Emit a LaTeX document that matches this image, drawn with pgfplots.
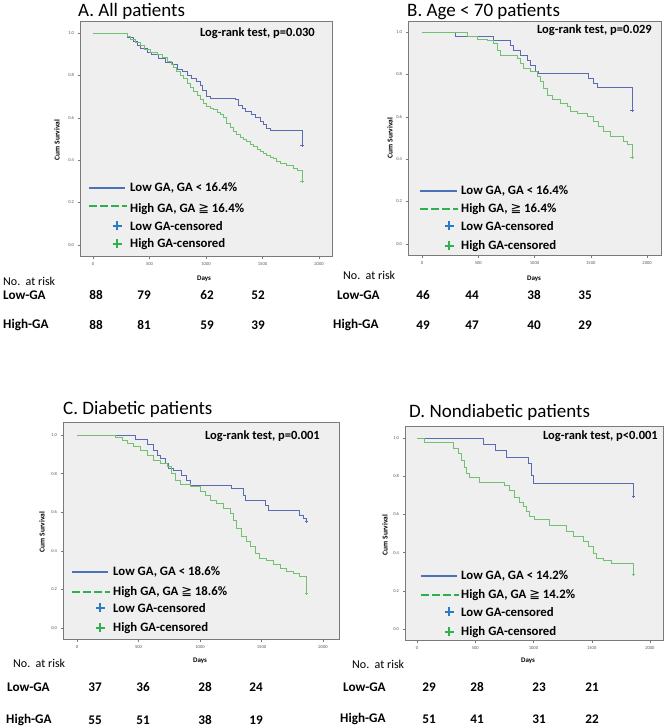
\documentclass[border=0pt]{standalone}
\usepackage{pgfplots}
\pgfplotsset{compat=1.18}
\usepackage{fontspec}
\setmainfont{Carlito}
\newfontfamily\djv{DejaVu Sans}
\definecolor{bgc}{HTML}{EFEFEF}
\definecolor{framec}{HTML}{7A7A7A}
\definecolor{tickc}{HTML}{555555}
\definecolor{bcurve}{HTML}{5B6BB2}
\definecolor{gcurve}{HTML}{72C072}
\definecolor{blegend}{HTML}{4A72B8}
\definecolor{glegend}{HTML}{2FB04E}
\definecolor{bplus}{HTML}{2A7AC8}
\definecolor{gplus}{HTML}{30B050}
\pgfplotsset{km/.style={
  scale only axis, anchor=south west,
  axis background/.style={fill=bgc},
  axis line style={draw=framec, line width=1pt},
  tick align=outside, major tick length=2.5pt,
  tick style={draw=framec, line width=0.4pt},
  xtick={0,500,1000,1500,2000}, ytick={0,0.2,0.4,0.6,0.8,1.0},
  xtick pos=bottom, ytick pos=left,
  ticklabel style={font=\fontsize{4.5}{5}\selectfont, text=tickc},
  /pgf/number format/assume math mode=true,
  /pgf/number format/1000 sep={},
  yticklabel={\pgfmathprintnumber[fixed,fixed zerofill,precision=1]{\tick}},
  clip=false
}}
\newcommand{\cens}[1]{\draw[#1, line width=1.8pt] (-4.5pt,0) -- (4.5pt,0) (0,-4.5pt) -- (0,4.5pt);}
\begin{document}
\begin{tikzpicture}[x=1pt,y=1pt]
\path[use as bounding box] (0,0) rectangle (668,728);
% ---------- Panel A ----------
\begin{axis}[km, at={(80pt,471pt)}, width=252pt, height=235pt,
  xmin=-115, xmax=2115, ymin=-0.057, ymax=1.052]
\addplot[const plot, bcurve, line width=0.6pt] coordinates {
(0,1.0)(300,0.98)(360,0.96)(390,0.94)(420,0.93)(477,0.91)(520,0.90)(580,0.88)(640,0.86)(700,0.85)(742,0.83)(786,0.82)(831,0.80)(870,0.785)(910,0.77)(948,0.755)(970,0.73)(1007,0.70)(1040,0.69)(1258,0.685)(1290,0.66)(1320,0.645)(1346,0.63)(1400,0.615)(1440,0.60)(1479,0.585)(1508,0.567)(1530,0.55)(1570,0.54)(1850,0.47)};
\addplot[const plot, gcurve, line width=0.6pt] coordinates {
(0,1.0)(300,0.985)(330,0.97)(370,0.955)(418,0.94)(450,0.925)(507,0.91)(566,0.90)(610,0.885)(654,0.865)(690,0.85)(713,0.84)(740,0.82)(772,0.80)(800,0.785)(831,0.765)(860,0.745)(890,0.725)(920,0.705)(948,0.685)(980,0.67)(1007,0.655)(1040,0.645)(1066,0.64)(1100,0.625)(1125,0.615)(1150,0.60)(1184,0.575)(1215,0.555)(1243,0.535)(1270,0.52)(1302,0.51)(1330,0.50)(1361,0.49)(1390,0.475)(1420,0.465)(1450,0.45)(1479,0.44)(1510,0.43)(1538,0.425)(1570,0.415)(1596,0.41)(1625,0.395)(1655,0.385)(1714,0.378)(1773,0.362)(1810,0.35)(1850,0.30)};
\addplot[only marks, mark=+, mark size=1.6pt, bcurve, line width=0.7pt] coordinates {(1850,0.47)};
\addplot[only marks, mark=+, mark size=1.6pt, gcurve, line width=0.7pt] coordinates {(1850,0.30)};
\end{axis}
% ---------- Panel B ----------
\begin{axis}[km, at={(408pt,472pt)}, width=253pt, height=234pt,
  xmin=-124, xmax=2124, ymin=-0.057, ymax=1.047]
\addplot[const plot, bcurve, line width=0.6pt] coordinates {
(0,1.0)(296,0.978)(637,0.959)(785,0.939)(815,0.915)(874,0.89)(933,0.868)(963,0.845)(1007,0.815)(1037,0.805)(1481,0.78)(1526,0.758)(1556,0.74)(1867,0.628)};
\addplot[const plot, gcurve, line width=0.6pt] coordinates {
(0,1.0)(400,0.98)(489,0.966)(578,0.96)(637,0.947)(667,0.915)(696,0.89)(844,0.876)(874,0.852)(904,0.829)(963,0.813)(1022,0.79)(1052,0.766)(1081,0.735)(1111,0.703)(1156,0.68)(1230,0.664)(1289,0.648)(1319,0.625)(1378,0.614)(1467,0.60)(1526,0.578)(1570,0.554)(1615,0.53)(1674,0.51)(1793,0.483)(1822,0.468)(1867,0.41)};
\addplot[only marks, mark=+, mark size=1.6pt, bcurve, line width=0.7pt] coordinates {(1867,0.628)};
\addplot[only marks, mark=+, mark size=1.6pt, gcurve, line width=0.7pt] coordinates {(1867,0.41)};
\end{axis}
% ---------- Panel C ----------
\begin{axis}[km, at={(63pt,88pt)}, width=276pt, height=217pt,
  xmin=-114, xmax=2130, ymin=-0.062, ymax=1.062]
\addplot[const plot, bcurve, line width=0.6pt] coordinates {
(0,1.0)(473,0.978)(568,0.95)(622,0.922)(649,0.897)(676,0.879)(716,0.853)(743,0.828)(784,0.819)(851,0.793)(892,0.767)(919,0.741)(1257,0.724)(1351,0.69)(1365,0.664)(1527,0.638)(1554,0.609)(1811,0.586)(1838,0.57)(1865,0.552)};
\addplot[const plot, gcurve, line width=0.6pt] coordinates {
(0,1.0)(311,0.988)(365,0.974)(405,0.957)(459,0.94)(514,0.922)(568,0.897)(622,0.871)(676,0.853)(730,0.836)(770,0.802)(797,0.767)(838,0.747)(919,0.733)(1000,0.707)(1041,0.69)(1081,0.664)(1135,0.647)(1189,0.621)(1243,0.595)(1270,0.56)(1297,0.517)(1338,0.474)(1378,0.448)(1405,0.422)(1446,0.388)(1486,0.362)(1541,0.353)(1595,0.328)(1649,0.31)(1703,0.293)(1757,0.284)(1811,0.267)(1865,0.181)};
\addplot[only marks, mark=+, mark size=1.6pt, bcurve, line width=0.7pt] coordinates {(1865,0.552)};
\addplot[only marks, mark=+, mark size=1.6pt, gcurve, line width=0.7pt] coordinates {(1865,0.181)};
\end{axis}
% ---------- Panel D ----------
\begin{axis}[km, at={(405pt,87pt)}, width=258pt, height=214pt,
  xmin=-103, xmax=2112, ymin=-0.063, ymax=1.058]
\addplot[const plot, bcurve, line width=0.6pt] coordinates {
(0,1.0)(567,0.967)(668,0.936)(768,0.90)(954,0.866)(983,0.805)(997,0.765)(1857,0.697)};
\addplot[const plot, gcurve, line width=0.6pt] coordinates {
(0,1.0)(66,0.98)(309,0.944)(352,0.918)(381,0.883)(410,0.849)(424,0.814)(453,0.797)(539,0.77)(753,0.753)(796,0.727)(839,0.692)(882,0.666)(911,0.64)(940,0.614)(968,0.588)(1011,0.574)(1140,0.544)(1284,0.51)(1341,0.483)(1427,0.457)(1470,0.431)(1513,0.397)(1542,0.37)(1599,0.362)(1670,0.344)(1857,0.287)};
\addplot[only marks, mark=+, mark size=1.6pt, bcurve, line width=0.7pt] coordinates {(1857,0.697)};
\addplot[only marks, mark=+, mark size=1.6pt, gcurve, line width=0.7pt] coordinates {(1857,0.287)};
\end{axis}
% ---------- Titles ----------
\node[anchor=base west, font=\fontsize{19}{20}\selectfont, inner sep=0] at (78,711) {A. All patients};
\node[anchor=base west, font=\fontsize{19}{20}\selectfont, inner sep=0] at (407,711) {B. Age {\textless} 70 patients};
\node[anchor=base west, font=\fontsize{19}{20}\selectfont, inner sep=0] at (63,313) {C. Diabetic patients};
\node[anchor=base west, font=\fontsize{19}{20}\selectfont, inner sep=0] at (409,310) {D. Nondiabetic patients};
% ---------- Log-rank ----------
\node[anchor=east, font=\bfseries\fontsize{12.5}{14}\selectfont, inner sep=0] at (315,695) {Log-rank test, p=0.030};
\node[anchor=east, font=\bfseries\fontsize{12.5}{14}\selectfont, inner sep=0] at (652,698) {Log-rank test, p=0.029};
\node[anchor=east, font=\bfseries\fontsize{12.5}{14}\selectfont, inner sep=0] at (320,292) {Log-rank test, p=0.001};
\node[anchor=east, font=\bfseries\fontsize{12.5}{14}\selectfont, inner sep=0] at (658,292) {Log-rank test, p{\textless}0.001};
% ---------- Axis labels ----------
\foreach \x/\y in {57/588, 390/590, 42/196, 385/193}
  \node[rotate=90, font=\bfseries\fontsize{7.5}{8}\selectfont, inner sep=0] at (\x,\y) {Cum Survival};
\foreach \x/\y in {204/449, 534/449, 200/67, 528/67}
  \node[font=\bfseries\fontsize{7}{8}\selectfont, inner sep=0] at (\x,\y) {Days};
% ---------- Legends ----------
\tikzset{lg/.style={anchor=west, font=\bfseries\fontsize{12.8}{14}\selectfont, inner sep=0},
  bl/.style={blegend, line width=2.8pt}, gl/.style={glegend, line width=2.8pt, dash pattern=on 8pt off 3pt}}
% A
\draw[bl] (89,540) -- (125,540);
\draw[gl] (89,522) -- (127,522);
\begin{scope}[shift={(117,502)}]\cens{bplus}\end{scope}
\begin{scope}[shift={(117,484)}]\cens{gplus}\end{scope}
\node[lg] at (130,540) {Low GA, GA {\textless} 16.4\%};
\node[lg] at (130,519) {High GA, GA {\mdseries\djv ≧} 16.4\%};
\node[lg] at (130,502) {Low GA-censored};
\node[lg] at (130,484) {High GA-censored};
% B
\draw[bl] (420,537) -- (457,537);
\draw[gl] (420,519) -- (458,519);
\begin{scope}[shift={(449,502)}]\cens{bplus}\end{scope}
\begin{scope}[shift={(449,482)}]\cens{gplus}\end{scope}
\node[lg] at (461,537) {Low GA, GA {\textless} 16.4\%};
\node[lg] at (461,519) {High GA, {\mdseries\djv ≧} 16.4\%};
\node[lg] at (461,502) {Low GA-censored};
\node[lg] at (461,482) {High GA-censored};
% C
\draw[bl] (72,156) -- (108,156);
\draw[gl] (72,136) -- (110,136);
\begin{scope}[shift={(100,120)}]\cens{bplus}\end{scope}
\begin{scope}[shift={(100,100)}]\cens{gplus}\end{scope}
\node[lg] at (113,156) {Low GA, GA {\textless} 18.6\%};
\node[lg] at (113,136) {High GA, GA {\mdseries\djv ≧} 18.6\%};
\node[lg] at (113,120) {Low GA-censored};
\node[lg] at (113,100) {High GA-censored};
% D
\draw[bl] (421,152) -- (457,152);
\draw[gl] (421,133) -- (459,133);
\begin{scope}[shift={(449,116)}]\cens{bplus}\end{scope}
\begin{scope}[shift={(449,96)}]\cens{gplus}\end{scope}
\node[lg] at (461,152) {Low GA, GA {\textless} 14.2\%};
\node[lg] at (461,133) {High GA, GA {\mdseries\djv ≧} 14.2\%};
\node[lg] at (461,116) {Low GA-censored};
\node[lg] at (461,96) {High GA-censored};
% ---------- Risk tables ----------
\tikzset{rk/.style={font=\bfseries\fontsize{13.2}{14}\selectfont, inner sep=0}, rh/.style={font=\fontsize{12}{13}\selectfont, inner sep=0, anchor=west}}
% A
\node[rh] at (3,447) {No.\ \ at risk};
\node[rk, anchor=west] at (3,433) {Low-GA};
\node[rk, anchor=west] at (3,403) {High-GA};
\foreach \x/\a/\b in {96/88/88, 144/79/81, 207/62/59, 258/52/39} {
  \node[rk] at (\x,433) {\a}; \node[rk] at (\x,403) {\b};}
% B
\node[rh] at (343,453) {No.\ \ at risk};
\node[rk, anchor=west] at (337,433) {Low-GA};
\node[rk, anchor=west] at (333,403) {High-GA};
\foreach \x/\a/\b in {423/46/49, 472/44/47, 534/38/40, 585/35/29} {
  \node[rk] at (\x,433) {\a}; \node[rk] at (\x,403) {\b};}
% C
\node[rh] at (13,65) {No.\ \ at risk};
\node[rk, anchor=west] at (7,41) {Low-GA};
\node[rk, anchor=west] at (6,8) {High-GA};
\foreach \x/\a/\b in {95/37/55, 143/36/51, 205/28/38, 256/24/19} {
  \node[rk] at (\x,41) {\a}; \node[rk] at (\x,8) {\b};}
% D
\node[rh] at (352,64) {No.\ \ at risk};
\node[rk, anchor=west] at (343,41) {Low-GA};
\node[rk, anchor=west] at (340,9) {High-GA};
\foreach \x/\a/\b in {429/29/51, 477/28/41, 539/23/31, 592/21/22} {
  \node[rk] at (\x,41) {\a}; \node[rk] at (\x,9) {\b};}
\end{tikzpicture}
\end{document}
